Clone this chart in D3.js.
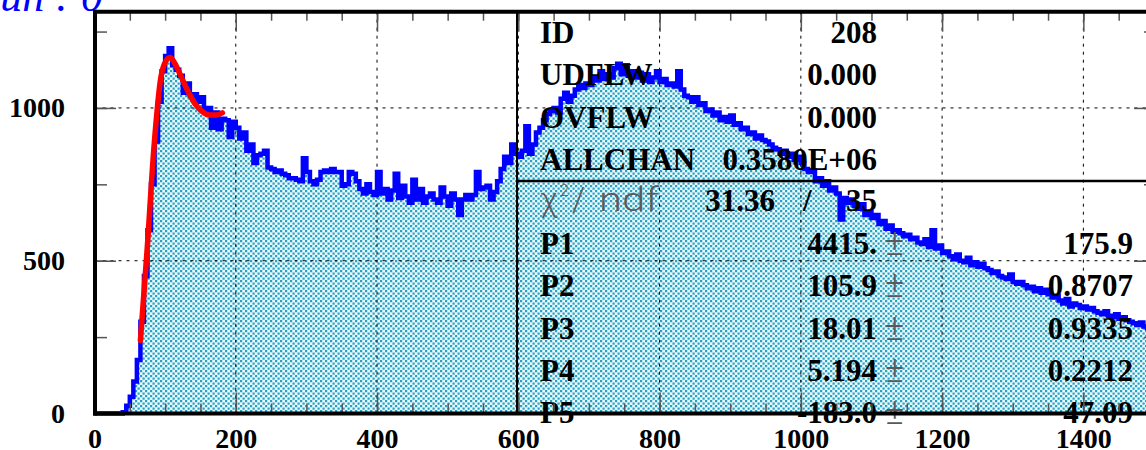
<!DOCTYPE html>
<html lang="en">
<head>
    <meta charset="UTF-8">
    <title>Histogram 208</title>
    <script src="https://d3js.org/d3.v7.min.js"></script>
    <style>
        body { margin: 0; background: #fff; }
        svg { display: block; }
        .stat { font-family: "Liberation Serif", "Times New Roman", serif; font-weight: bold; font-size: 31px; fill: #000; }
        .thin { font-family: Roboto, "DejaVu Sans", sans-serif; font-weight: 300; fill: #5a5a5a; }
        .tick text { font-family: "Liberation Serif", serif; font-weight: bold; font-size: 28px; fill: #000; }
    </style>
</head>
<body>
<div id="chart"></div>
<script>
// histogram: 5 unit bins from 0 to 1500
const binWidth = 5;
const counts = [
    0, 0, 0, 0, 0, 0, 0, 0, 4, 25,
    55, 105, 175, 300, 450, 600, 750, 890, 1020, 1120,
    1170, 1195, 1140, 1125, 1105, 1050, 1080, 1040, 1045, 1020,
    1035, 990, 1000, 935, 985, 930, 965, 960, 905, 955,
    935, 900, 920, 860, 880, 820, 845, 850, 860, 805,
    800, 790, 795, 785, 780, 770, 770, 765, 760, 835,
    790, 760, 750, 765, 790, 795, 790, 800, 790, 790,
    745, 750, 790, 785, 760, 735, 720, 750, 725, 715,
    790, 720, 735, 700, 730, 785, 705, 745, 710, 690,
    765, 700, 735, 690, 710, 720, 700, 690, 740, 710,
    680, 720, 700, 650, 700, 715, 700, 715, 790, 735,
    740, 745, 700, 725, 760, 800, 840, 820, 880, 850,
    840, 860, 940, 850, 880, 920, 935, 960, 980, 990,
    1000, 985, 1030, 1050, 1020, 1040, 1060, 1075, 1065, 1080,
    1075, 1100, 1090, 1120, 1095, 1110, 1100, 1130, 1145, 1110,
    1140, 1105, 1120, 1100, 1115, 1090, 1110, 1085, 1100, 1120,
    1085, 1095, 1075, 1080, 1070, 1120, 1060, 1040, 1035, 1020,
    1035, 1010, 1015, 990, 995, 975, 985, 960, 970, 955,
    975, 945, 950, 930, 935, 915, 920, 900, 910, 895,
    890, 880, 870, 865, 850, 860, 840, 850, 830, 840,
    820, 800, 790, 795, 760, 770, 745, 760, 730, 740,
    720, 635, 705, 690, 700, 680, 670, 685, 650, 660,
    640, 650, 620, 630, 605, 615, 595, 600, 590, 580,
    585, 570, 575, 560, 555, 570, 545, 600, 540, 550,
    525, 530, 515, 505, 520, 500, 495, 510, 485, 495,
    480, 490, 475, 470, 460, 465, 450, 445, 440, 455,
    430, 425, 430, 420, 410, 415, 400, 410, 395, 405,
    390, 380, 385, 370, 360, 375, 350, 360, 355, 345,
    350, 340, 345, 335, 330, 325, 335, 320, 315, 325,
    310, 315, 305, 300, 295, 290, 298, 285, 280, 278
];

// fitted curve
const fitX = [65, 74.6, 84, 89, 93, 99, 107, 113, 122, 132, 141, 151, 163, 172, 181];
const fitY = [239, 539, 866, 1000, 1085, 1144, 1165, 1149, 1106, 1056, 1018, 991, 977, 977, 984];

const xTicksMajor = [0, 200, 400, 600, 800, 1000, 1200, 1400];
const yTicksMajor = [0, 500, 1000];

const statNames = ["ID", "UDFLW", "OVFLW", "ALLCHAN"];
const statValues = ["208", "0.000", "0.000", "0.3580E+06"];
const chi2 = "31.36", ndf = "35";
const parNames = ["P1", "P2", "P3", "P4", "P5"];
const parValues = ["4415.", "105.9", "18.01", "5.194", "-183.0"];
const parErrors = ["175.9", "0.8707", "0.9335", "0.2212", "47.09"];

const W = 1146, H = 450;
const x = d3.scaleLinear().domain([0, 1500]).range([94.5, 1154]);
const y = d3.scaleLinear().domain([0, 1315]).range([413.5, 11.7]);

const svg = d3.select("#chart").append("svg")
    .attr("width", W).attr("height", H);

// dotted fill pattern
const pat = svg.append("defs").append("pattern")
    .attr("id", "dots").attr("patternUnits", "userSpaceOnUse")
    .attr("width", 5).attr("height", 5);
pat.append("rect").attr("width", 5).attr("height", 5).attr("fill", "#eaf7fb");
pat.append("rect").attr("x", 0).attr("y", 0).attr("width", 2.2).attr("height", 2.2).attr("fill", "#22a3c6");
pat.append("rect").attr("x", 2.5).attr("y", 2.5).attr("width", 2.2).attr("height", 2.2).attr("fill", "#22a3c6");

// title, mostly off the top of the picture
svg.append("text")
    .attr("x", 103).attr("y", 11)
    .attr("text-anchor", "end")
    .style("font-family", "'Liberation Serif', serif")
    .style("font-style", "italic")
    .style("font-size", "44px")
    .style("fill", "#0000ff")
    .text("Run : 0");

const pts = counts.map((c, i) => [i * binWidth, c]);
pts.push([counts.length * binWidth, counts[counts.length - 1]]);

const area = d3.area()
    .curve(d3.curveStepAfter)
    .x(d => x(d[0])).y0(y(0)).y1(d => y(d[1]));
svg.append("path").datum(pts).attr("d", area).attr("fill", "url(#dots)");

// grid
const grid = svg.append("g").attr("stroke", "#000").attr("stroke-width", 1).attr("stroke-dasharray", "3,5");
grid.selectAll("line.v").data(xTicksMajor.filter(d => d > 0)).enter().append("line")
    .attr("x1", d => x(d)).attr("x2", d => x(d)).attr("y1", y.range()[1]).attr("y2", y(0));
grid.selectAll("line.h").data(yTicksMajor.filter(d => d > 0)).enter().append("line")
    .attr("x1", x(0)).attr("x2", x(1500)).attr("y1", d => y(d)).attr("y2", d => y(d));

const line = d3.line()
    .curve(d3.curveStepAfter)
    .x(d => x(d[0])).y(d => y(d[1]));
svg.append("path").datum(pts).attr("d", line)
    .attr("fill", "none").attr("stroke", "#0000ff").attr("stroke-width", 4.5);

// fit
const fitLine = d3.line().curve(d3.curveMonotoneX).x(d => x(d[0])).y(d => y(d[1]));
svg.append("path").datum(fitX.map((v, i) => [v, fitY[i]])).attr("d", fitLine)
    .attr("fill", "none").attr("stroke", "#ff0000").attr("stroke-width", 5.5)
    .attr("stroke-linecap", "round");

// stats box
const bx = 517;
svg.append("line").attr("x1", bx).attr("x2", bx).attr("y1", y.range()[1]).attr("y2", y(0))
    .attr("stroke", "#000").attr("stroke-width", 2);
svg.append("line").attr("x1", bx).attr("x2", x(1500)).attr("y1", 181).attr("y2", 181)
    .attr("stroke", "#000").attr("stroke-width", 2.5);

const st = svg.append("g");
statNames.forEach((n, i) => {
    const yy = 43 + i * 42.3;
    st.append("text").attr("class", "stat").attr("x", 540).attr("y", yy).text(n);
    st.append("text").attr("class", "stat").attr("x", 877).attr("y", yy)
        .attr("text-anchor", "end").text(statValues[i]);
});

// chi2 row
const cy = 211;
st.append("text").attr("class", "thin").attr("x", 540).attr("y", cy).style("font-size", "33px").text("\u03c7");
st.append("text").attr("class", "thin").attr("x", 560).attr("y", cy - 15).style("font-size", "16px").text("2");
st.append("text").attr("class", "thin").attr("x", 572).attr("y", cy).style("font-size", "33px").text("/");
st.append("text").attr("class", "thin").attr("x", 599).attr("y", cy).style("font-size", "34px")
    .attr("textLength", 60).attr("lengthAdjust", "spacingAndGlyphs").text("ndf");
st.append("text").attr("class", "stat").attr("x", 775).attr("y", cy).attr("text-anchor", "end").text(chi2);
st.append("text").attr("class", "stat").attr("x", 803).attr("y", cy).text("/");
st.append("text").attr("class", "stat").attr("x", 877).attr("y", cy).attr("text-anchor", "end").text(ndf);

parNames.forEach((n, i) => {
    const yy = 254 + i * 42.3;
    st.append("text").attr("class", "stat").attr("x", 540).attr("y", yy).text(n);
    st.append("text").attr("class", "stat").attr("x", 877).attr("y", yy)
        .attr("text-anchor", "end").text(parValues[i]);
    st.append("text").attr("class", "thin").attr("x", 885).attr("y", yy + 1)
        .style("font-size", "36px").text("\u00b1");
    st.append("text").attr("class", "stat").attr("x", 1133).attr("y", yy)
        .attr("text-anchor", "end").text(parErrors[i]);
});

// axes
const minorX = d3.range(0, 1501, 50), minorY = d3.range(0, 1315, 250);
function styleAxis(g) {
    g.select(".domain").remove();
    g.selectAll(".tick line").attr("stroke", "#555").attr("stroke-width", 1.5);
}
svg.append("g").attr("transform", `translate(0,${y(0)})`)
    .call(d3.axisBottom(x).tickValues(minorX).tickSize(-10).tickFormat("")).call(styleAxis);
svg.append("g").attr("transform", `translate(0,${y(0)})`)
    .call(d3.axisBottom(x).tickValues(xTicksMajor).tickSize(-21).tickPadding(15).tickFormat(d3.format("d")))
    .call(styleAxis);
svg.append("g").attr("transform", `translate(0,${y.range()[1]})`)
    .call(d3.axisTop(x).tickValues(minorX).tickSize(-9).tickFormat("")).call(styleAxis);
svg.append("g").attr("transform", `translate(0,${y.range()[1]})`)
    .call(d3.axisTop(x).tickValues(xTicksMajor).tickSize(-20).tickFormat("")).call(styleAxis);
svg.append("g").attr("transform", `translate(${x(0) + 0.5},0)`)
    .call(d3.axisLeft(y).tickValues(minorY).tickSize(-12).tickFormat("")).call(styleAxis);
svg.append("g").attr("transform", `translate(${x(0) + 0.5},0)`)
    .call(d3.axisLeft(y).tickValues(yTicksMajor).tickSize(-21).tickPadding(30).tickFormat(d3.format("d")))
    .call(styleAxis);
svg.append("g").attr("transform", `translate(${x(1500)},0)`)
    .call(d3.axisRight(y).tickValues(minorY).tickSize(-10).tickFormat("")).call(styleAxis);
svg.append("g").attr("transform", `translate(${x(1500)},0)`)
    .call(d3.axisRight(y).tickValues(yTicksMajor).tickSize(-20).tickFormat("")).call(styleAxis);

// thick frame
const frame = svg.append("g").attr("stroke", "#000").attr("stroke-width", 4).attr("fill", "none");
frame.append("line").attr("x1", x(0) + 0.5).attr("x2", x(0) + 0.5).attr("y1", y.range()[1] - 2).attr("y2", y(0) + 2);
frame.append("line").attr("x1", x(0) - 1.5).attr("x2", x(1500)).attr("y1", y(0)).attr("y2", y(0));
frame.append("line").attr("x1", x(0) - 1.5).attr("x2", x(1500)).attr("y1", y.range()[1]).attr("y2", y.range()[1]);
frame.append("line").attr("x1", x(1500)).attr("x2", x(1500)).attr("y1", y.range()[1]).attr("y2", y(0));
</script>
</body>
</html>
